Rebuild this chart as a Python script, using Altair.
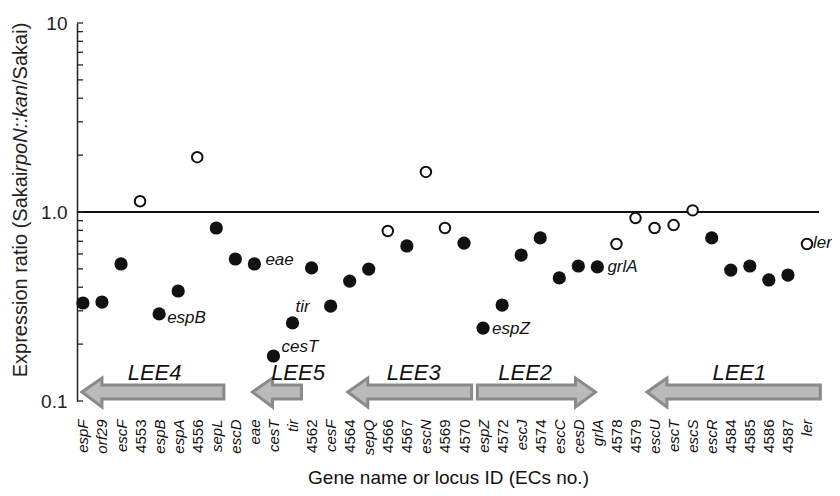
import altair as alt
import pandas as pd
import json

genes = ["espF", "orf29", "escF", "4553", "espB", "espA", "4556", "sepL", "escD",
         "eae", "cesT", "tir", "4562", "cesF", "4564", "sepQ", "4566", "4567",
         "escN", "4569", "4570", "espZ", "4572", "escJ", "4574", "escC", "cesD",
         "grlA", "4578", "4579", "escU", "escT", "escS", "escR", "4584", "4585",
         "4586", "4587", "ler"]
ratios = [0.330, 0.334, 0.531, 1.14, 0.289, 0.382, 1.95, 0.823, 0.564,
          0.531, 0.173, 0.259, 0.506, 0.318, 0.431, 0.499, 0.793, 0.661,
          1.63, 0.823, 0.685, 0.243, 0.322, 0.592, 0.729, 0.448, 0.518,
          0.512, 0.677, 0.929, 0.823, 0.853, 1.02, 0.729, 0.493, 0.518,
          0.437, 0.464, 0.677]
open_marker = [0, 0, 0, 1, 0, 0, 1, 0, 0,
               0, 0, 0, 0, 0, 0, 0, 1, 0,
               1, 1, 0, 0, 0, 0, 0, 0, 0,
               0, 1, 1, 1, 1, 1, 0, 0, 0,
               0, 0, 1]

# operon arrows (positions in gene-index units)
lee_names = ["LEE4", "LEE5", "LEE3", "LEE2", "LEE1"]
lee_tail = [7.4, 11.47, 20.4, 20.7, 38.7]
lee_tip = [-0.05, 8.9, 13.9, 26.9, 29.6]
lee_label_x = [3.76, 11.29, 17.36, 23.21, 34.45]

annot_genes = ["espB", "eae", "tir", "cesT", "espZ", "grlA", "ler"]

y_ticks = [0.1, 0.2, 0.3, 0.4, 0.5, 0.6, 0.7, 0.8, 0.9,
           1, 2, 3, 4, 5, 6, 7, 8, 9, 10]

y_title_parts = ["Expression ratio (Sakai", "rpoN::kan", "/Sakai)"]
y_title_styles = ["normal", "italic", "normal"]
y_title_em = [10.281, 4.335, 3.112]  # approximate widths in em

FONT = "Liberation Sans"
X_MIN, X_MAX = -0.31, 38.63
W, H = 742, 378

pts = pd.DataFrame({"idx": list(range(len(genes))), "gene": genes,
                    "ratio": ratios, "open": open_marker})

# arrow outlines (y in log-value space): top/bottom edge as function of x
c, hT, hB, sT, sB = 0.1116, 0.1323, 0.0930, 0.1215, 0.1025
HL = 1.05
EPS = 0.001
rows = []
for n, tail, tip in zip(lee_names, lee_tail, lee_tip):
    if tip < tail:
        h = tip + HL
        verts = [(tip, c, c), (h, hT, hB), (h + EPS, sT, sB), (tail, sT, sB)]
    else:
        h = tip - HL
        verts = [(tail, sT, sB), (h - EPS, sT, sB), (h, hT, hB), (tip, c, c)]
    for xx, y1, y2 in verts:
        rows.append({"name": n, "idx": xx, "ratio": y1, "ratio2": y2})
arrows = pd.DataFrame(rows)
lab = pd.DataFrame({"name": lee_names, "idx": lee_label_x,
                    "ratio": [0.1406] * len(lee_names)})
tick_len = 6 * (X_MAX - X_MIN) / W
ticks = pd.DataFrame({"ratio": y_ticks, "idx": [X_MIN] * len(y_ticks),
                      "idx2": [X_MIN + tick_len] * len(y_ticks)})

js_genes = json.dumps(genes)

X = alt.X("idx:Q",
          scale=alt.Scale(domain=[X_MIN, X_MAX], nice=False, zero=False),
          axis=alt.Axis(values=list(range(len(genes))),
                        labelExpr=f"{js_genes}[datum.value]",
                        labelAngle=-90, labelFontSize=15, labelColor="#111",
                        labelFontStyle={"condition": {"test": f"test(/^[0-9]/, {js_genes}[datum.value])", "value": "normal"}, "value": "italic"},
                        domain=False, ticks=False, tickSize=0, grid=False,
                        labelPadding=18, labelFlush=False, labelOverlap=False,
                        title="Gene name or locus ID (ECs no.)",
                        titleFontSize=19, titleFontWeight="normal",
                        titleColor="#111", titlePadding=14))
Y = alt.Y("ratio:Q",
          scale=alt.Scale(type="log", domain=[0.1, 10], nice=False),
          axis=alt.Axis(values=[0.1, 1, 10],
                        labelExpr="datum.value == 1 ? '1.0' : (datum.value == 10 ? '10' : '0.1')",
                        ticks=False, tickSize=0, grid=False,
                        domainColor="#222", domainWidth=1.5,
                        labelFontSize=19, labelColor="#222", labelPadding=10,
                        title=None),
          stack=None)

base = alt.Chart(pts)

hline = alt.Chart(pd.DataFrame({"ratio": [1.0]})).mark_rule(
    color="#111", strokeWidth=2).encode(y=Y)

tickmarks = alt.Chart(ticks).mark_rule(
    strokeWidth=1.3, color="#222").encode(x=X, x2="idx2:Q", y=Y)

arrow_layer = alt.Chart(arrows).mark_area(
    fill="#bababa", stroke="#8a8a8a", strokeWidth=3, opacity=1,
    fillOpacity=1, orient="vertical").encode(
    x=X, y=Y, y2="ratio2:Q", detail="name:N")

arrow_text = alt.Chart(lab).mark_text(
    font=FONT, fontSize=22, fontStyle="italic", color="#111").encode(
    x=X, y=Y, text="name:N")

filled = base.transform_filter("datum.open == 0").mark_point(
    shape="circle", filled=True, size=175, color="#111", opacity=1).encode(x=X, y=Y)
opened = base.transform_filter("datum.open == 1").mark_point(
    shape="circle", filled=False, size=110, color="#111", strokeWidth=2,
    fill="white", fillOpacity=1, opacity=1).encode(x=X, y=Y)

offsets = {"espB": (8, 4, "left"), "eae": (11, -4, "left"), "tir": (10, -16, "center"),
           "cesT": (8, -9, "left"), "espZ": (9, 1, "left"), "grlA": (10, 0, "left"),
           "ler": (6, -1, "left")}
annots = []
for g in annot_genes:
    dx, dy, al = offsets[g]
    annots.append(base.transform_filter(f"datum.gene == '{g}'").mark_text(
        font=FONT, fontSize=17, fontStyle="italic", color="#111",
        align=al, baseline="middle", dx=dx, dy=dy).encode(x=X, y=Y, text="gene:N"))

# y-axis title in three pieces (normal / italic / normal), reading upward
TFS = 20
total = sum(y_title_em) * TFS
start = H / 2 - 12 + total / 2
title_layers = []
pos = start
one = pd.DataFrame({"a": [0]})
for txt, sty, em in zip(y_title_parts, y_title_styles, y_title_em):
    title_layers.append(alt.Chart(one).mark_text(
        font=FONT, fontSize=TFS, fontStyle=sty, color="#222", angle=270,
        align="left", baseline="middle").encode(
        x=alt.value(-56), y=alt.value(pos), text=alt.value(txt)))
    pos -= em * TFS

chart = alt.layer(arrow_layer, hline, tickmarks, arrow_text, filled, opened,
                  *annots, *title_layers).properties(
    width=W, height=H,
    autosize=alt.AutoSizeParams(type="none"),
    padding={"left": 69, "top": 15, "right": 13, "bottom": 87}).configure(
    font=FONT).configure_view(stroke=None)

chart.save("out.html", embed_options={"renderer": "svg", "actions": False})
